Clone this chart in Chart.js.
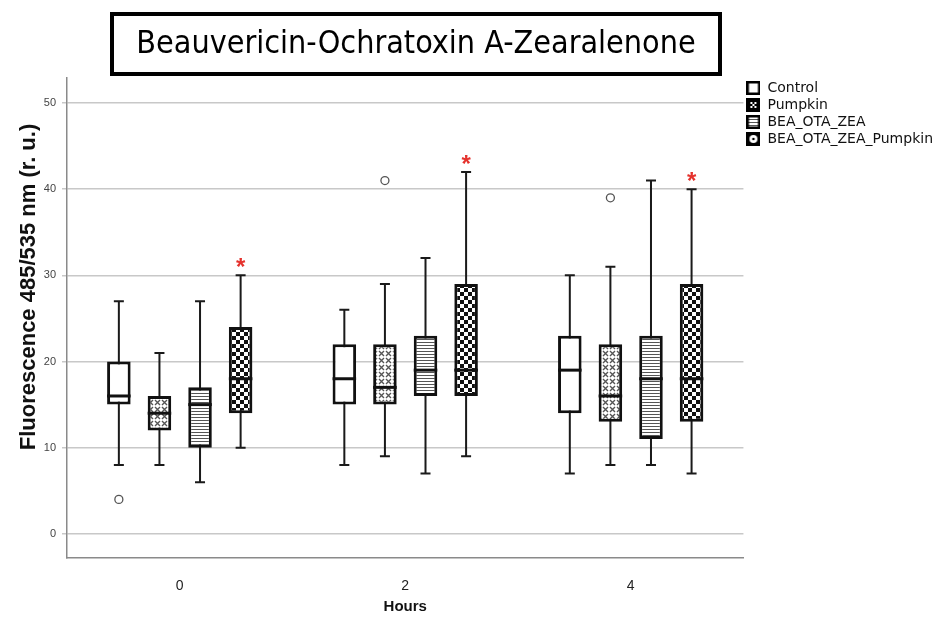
<!DOCTYPE html>
<html>
<head>
<meta charset="utf-8">
<title>Beauvericin-Ochratoxin A-Zearalenone</title>
<script src="https://cdn.jsdelivr.net/npm/chart.js@4.4.1/dist/chart.umd.min.js"></script>
<style>
  html, body { margin: 0; padding: 0; background: #fff; }
</style>
</head>
<body>
<canvas id="boxChart" width="943" height="622"></canvas>
<script>
var hours = ['0', '2', '4'];
var groups = ['Control', 'Pumpkin', 'BEA_OTA_ZEA', 'BEA_OTA_ZEA_Pumpkin'];

// one row per group, one column per hour
var whiskerLow  = [[8, 8, 7], [8, 9, 8], [6, 7, 8], [10, 9, 7]];
var quartile1   = [[15, 15, 14], [12, 15, 13], [10, 16, 11], [14, 16, 13]];
var medians     = [[16, 18, 19], [14, 17, 16], [15, 19, 18], [18, 19, 18]];
var quartile3   = [[20, 22, 23], [16, 22, 22], [17, 23, 23], [24, 29, 29]];
var whiskerHigh = [[27, 26, 30], [21, 29, 31], [27, 32, 41], [30, 42, 40]];
var outliers    = [[[4], [], []], [[], [41], [39]], [[], [], []], [[], [], []]];
var significant = [false, false, false, true];
var yTicks = [0, 10, 20, 30, 40, 50];

function makeTile(w, h, draw) {
  var c = document.createElement('canvas');
  c.width = w; c.height = h;
  draw(c.getContext('2d'), w, h);
  return c;
}
var patCtx = document.createElement('canvas').getContext('2d');

// box fills
var crossTile = makeTile(7, 7, function(g) {
  g.fillStyle = '#fff'; g.fillRect(0, 0, 7, 7);
  g.strokeStyle = '#555'; g.lineWidth = 1.4;
  g.beginPath();
  g.moveTo(1, 1); g.lineTo(6, 6);
  g.moveTo(6, 1); g.lineTo(1, 6);
  g.stroke();
});
var stripeTile = makeTile(4, 3, function(g) {
  g.fillStyle = '#fff'; g.fillRect(0, 0, 4, 3);
  g.fillStyle = '#555'; g.fillRect(0, 0, 4, 1);
});
var checkTile = makeTile(8, 8, function(g) {
  g.fillStyle = '#fff'; g.fillRect(0, 0, 8, 8);
  g.fillStyle = '#111'; g.fillRect(0, 0, 4, 4); g.fillRect(4, 4, 4, 4);
});
var fills = [
  '#ffffff',
  patCtx.createPattern(crossTile, 'repeat'),
  patCtx.createPattern(stripeTile, 'repeat'),
  patCtx.createPattern(checkTile, 'repeat')
];

// legend icons
function icon(draw) {
  return makeTile(14, 14, function(g) {
    draw(g);
    g.strokeStyle = '#000'; g.lineWidth = 2.5;
    g.strokeRect(1.25, 1.25, 11.5, 11.5);
  });
}
var legendIcons = [
  icon(function(g) { g.fillStyle = '#fff'; g.fillRect(0, 0, 14, 14); }),
  icon(function(g) {
    g.fillStyle = '#000'; g.fillRect(0, 0, 14, 14);
    g.fillStyle = '#fff';
    [[4, 4], [8, 4], [6, 6], [4, 8], [8, 8]].forEach(function(p) { g.fillRect(p[0], p[1], 2, 2); });
  }),
  icon(function(g) {
    g.fillStyle = '#fff'; g.fillRect(0, 0, 14, 14);
    g.fillStyle = '#555';
    g.fillRect(2, 4, 10, 1); g.fillRect(2, 7, 10, 1); g.fillRect(2, 10, 10, 1);
  }),
  icon(function(g) {
    g.fillStyle = '#000'; g.fillRect(0, 0, 14, 14);
    g.fillStyle = '#fff';
    g.beginPath(); g.arc(7, 7, 4, 0, Math.PI * 2); g.fill();
    g.fillStyle = '#000';
    g.beginPath(); g.arc(7, 7, 1.3, 0, Math.PI * 2); g.fill();
  })
];

var datasets = groups.map(function(name, i) {
  return {
    label: name,
    data: hours.map(function(h, j) { return [quartile1[i][j], quartile3[i][j]]; }),
    backgroundColor: fills[i],
    borderColor: '#111',
    borderWidth: 3,
    borderSkipped: false,
    categoryPercentage: 0.72,
    barPercentage: 0.58
  };
});

var boxPlotPlugin = {
  id: 'boxPlot',
  beforeDatasetsDraw: function(chart) {
    var ctx = chart.ctx, y = chart.scales.y;
    ctx.save();
    ctx.strokeStyle = '#1a1a1a';
    ctx.lineWidth = 2;
    groups.forEach(function(name, i) {
      chart.getDatasetMeta(i).data.forEach(function(bar, j) {
        var lo = y.getPixelForValue(whiskerLow[i][j]);
        var hi = y.getPixelForValue(whiskerHigh[i][j]);
        ctx.beginPath();
        ctx.moveTo(bar.x, hi); ctx.lineTo(bar.x, lo);
        ctx.moveTo(bar.x - 5, hi); ctx.lineTo(bar.x + 5, hi);
        ctx.moveTo(bar.x - 5, lo); ctx.lineTo(bar.x + 5, lo);
        ctx.stroke();
      });
    });
    ctx.restore();
  },
  afterDatasetsDraw: function(chart) {
    var ctx = chart.ctx, y = chart.scales.y;
    ctx.save();
    groups.forEach(function(name, i) {
      chart.getDatasetMeta(i).data.forEach(function(bar, j) {
        var half = bar.width / 2;
        var m = y.getPixelForValue(medians[i][j]);
        ctx.strokeStyle = '#111';
        ctx.lineWidth = 3;
        ctx.beginPath();
        ctx.moveTo(bar.x - half, m); ctx.lineTo(bar.x + half, m);
        ctx.stroke();

        outliers[i][j].forEach(function(v) {
          ctx.beginPath();
          ctx.arc(bar.x, y.getPixelForValue(v), 4, 0, Math.PI * 2);
          ctx.fillStyle = '#fff';
          ctx.fill();
          ctx.lineWidth = 1.3;
          ctx.strokeStyle = '#555';
          ctx.stroke();
        });

        if (significant[i]) {
          ctx.fillStyle = '#e5322d';
          ctx.font = 'bold 24px "Liberation Sans", Arial, sans-serif';
          ctx.textAlign = 'center';
          ctx.textBaseline = 'middle';
          ctx.fillText('*', bar.x, y.getPixelForValue(whiskerHigh[i][j]) - 7);
        }
      });
    });
    ctx.restore();
  },
  afterDraw: function(chart) {
    var ctx = chart.ctx;
    var title = 'Beauvericin-Ochratoxin A-Zearalenone';
    ctx.save();
    // framed title
    ctx.lineWidth = 4;
    ctx.strokeStyle = '#000';
    ctx.strokeRect(112, 14, 608, 60);
    ctx.fillStyle = '#000';
    var size = 36;
    do {
      ctx.font = size + 'px "DejaVu Sans Condensed", "Liberation Sans Narrow", sans-serif';
      size -= 0.5;
    } while (ctx.measureText(title).width > 560 && size > 10);
    ctx.textAlign = 'center';
    ctx.textBaseline = 'middle';
    ctx.fillText(title, 416, 45);
    // vertical axis title
    ctx.translate(29, 287);
    ctx.rotate(-Math.PI / 2);
    ctx.font = 'bold 22px "Liberation Sans", Arial, sans-serif';
    ctx.fillStyle = '#111';
    ctx.fillText('Fluorescence 485/535 nm (r. u.)', 0, 0);
    ctx.restore();
  }
};

new Chart(document.getElementById('boxChart'), {
  type: 'bar',
  data: { labels: hours, datasets: datasets },
  plugins: [boxPlotPlugin],
  options: {
    responsive: false,
    animation: false,
    layout: { padding: { top: 78, left: 0, right: 0, bottom: 0 } },
    scales: {
      x: {
        grid: { display: false },
        border: { display: true, color: '#8a8a8a', width: 1.5 },
        ticks: { color: '#222', padding: 12, font: { family: 'Liberation Sans', size: 14 } },
        title: {
          display: true,
          text: 'Hours',
          color: '#111',
          font: { family: 'Liberation Sans', size: 15, weight: 'bold' },
          padding: { top: 0, bottom: 6 }
        },
        afterFit: function(scale) { scale.height = 64; }
      },
      y: {
        min: -2.8,
        max: 52.9,
        afterBuildTicks: function(scale) {
          scale.ticks = yTicks.map(function(v) { return { value: v }; });
        },
        grid: { color: '#c8c8c8', lineWidth: 1.5, tickLength: 5 },
        border: { display: true, color: '#8a8a8a', width: 1.5 },
        ticks: { color: '#444', padding: 6, font: { family: 'Liberation Sans', size: 11 } },
        afterFit: function(scale) { scale.width = 67; }
      }
    },
    plugins: {
      tooltip: { enabled: false },
      legend: {
        position: 'right',
        align: 'start',
        labels: {
          usePointStyle: true,
          padding: 3,
          color: '#111',
          font: { family: 'DejaVu Sans', size: 14 },
          generateLabels: function() {
            return groups.map(function(name, i) {
              return {
                text: name,
                pointStyle: legendIcons[i],
                fillStyle: '#000',
                strokeStyle: '#000',
                lineWidth: 0,
                hidden: false,
                datasetIndex: i,
                fontColor: '#111'
              };
            });
          }
        }
      }
    }
  }
});
</script>
</body>
</html>
